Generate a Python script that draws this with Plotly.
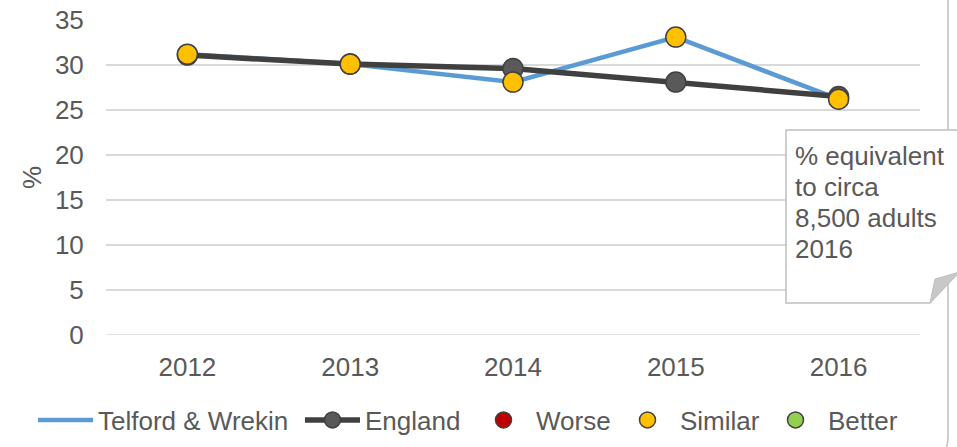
import plotly.graph_objects as go

years = ["2012", "2013", "2014", "2015", "2016"]
telford = [31.2, 30.1, 28.1, 33.1, 26.2]
england = [31.1, 30.1, 29.6, 28.1, 26.5]
similar = [31.2, 30.1, 28.1, 33.1, 26.2]
worse = [None, None, None, None, None]
better = [None, None, None, None, None]
y_ticks = [0, 5, 10, 15, 20, 25, 30, 35]
callout_lines = ["% equivalent", "to circa", "8,500 adults", "2016"]

W, H = 957, 447
L, R, T, B = 106, 920, 20, 335
FONT = "Liberation Sans, Arial, sans-serif"
TXT = "#595959"


def px(x):
    return (x - L) / (R - L)


def py(y):
    return (B - y) / (B - T)


fig = go.Figure()
fig.add_trace(go.Scatter(x=years, y=telford, name="Telford & Wrekin", mode="lines",
                         line=dict(color="#5B9BD5", width=4.5), legend="legend"))
fig.add_trace(go.Scatter(x=years, y=england, name="England", mode="lines+markers",
                         line=dict(color="#404040", width=5.5),
                         marker=dict(size=20, color="#595959", line=dict(color="#404040", width=1.5)),
                         legend="legend2"))
fig.add_trace(go.Scatter(x=years, y=worse, name="Worse", mode="markers",
                         marker=dict(size=20, color="#C00000", line=dict(color="#404040", width=1.5)),
                         legend="legend3"))
fig.add_trace(go.Scatter(x=years, y=similar, name="Similar", mode="markers",
                         marker=dict(size=20, color="#FFC000", line=dict(color="#404040", width=1.5)),
                         legend="legend4"))
fig.add_trace(go.Scatter(x=years, y=better, name="Better", mode="markers",
                         marker=dict(size=20, color="#92D050", line=dict(color="#404040", width=1.5)),
                         legend="legend5"))

shapes = []
# chart frame right edge
shapes.append(dict(type="path", xref="paper", yref="paper",
                   path=f"M {px(948)},{py(-5)} L {px(948)},{py(436)} Q {px(948)},{py(447)} {px(944)},{py(452)}",
                   line=dict(color="#BFBFBF", width=1.5)))
# callout box with folded corner
shapes.append(dict(type="path", xref="paper", yref="paper",
                   path=(f"M {px(786)},{py(130)} L {px(960)},{py(130)} L {px(960)},{py(273)} "
                         f"L {px(957)},{py(273)} L {px(930)},{py(303)} L {px(786)},{py(303)} Z"),
                   fillcolor="white", line=dict(color="#BFBFBF", width=1.5), layer="above"))
shapes.append(dict(type="path", xref="paper", yref="paper",
                   path=f"M {px(930)},{py(303)} L {px(935)},{py(279)} L {px(960)},{py(272)} Z",
                   fillcolor="#C8C8C8", line=dict(color="#BFBFBF", width=1), layer="above"))

annotations = []
for i, t in enumerate(callout_lines):
    annotations.append(dict(text=t, xref="paper", yref="paper", x=px(793), y=py(156 + 31 * i),
                            xanchor="left", yanchor="middle", showarrow=False,
                            font=dict(family=FONT, size=26, color=TXT)))


def leg(x_left):
    return dict(orientation="h", x=px(x_left), xanchor="left", y=py(420), yanchor="middle",
                font=dict(family=FONT, size=26, color=TXT), bgcolor="rgba(0,0,0,0)",
                itemwidth=55, borderwidth=0)


fig.update_layout(
    width=W, height=H,
    margin=dict(l=L, r=W - R, t=T, b=H - B, autoexpand=False),
    paper_bgcolor="white", plot_bgcolor="white",
    font=dict(family=FONT, size=26, color=TXT),
    showlegend=True,
    legend=leg(33),
    legend2=leg(300),
    legend3=leg(471),
    legend4=leg(615),
    legend5=leg(763),
    xaxis=dict(type="category", range=[-0.5, 4.5], showgrid=False, zeroline=False, automargin=False,
               showline=False, ticks="outside", ticklen=9, tickcolor="rgba(0,0,0,0)",
               tickfont=dict(family=FONT, size=26, color=TXT)),
    yaxis=dict(range=[0, 35], tickvals=y_ticks, showgrid=True, gridcolor="#D9D9D9", gridwidth=1.5,
               zeroline=False, showline=False, ticks="outside", ticklen=16, automargin=False,
               tickcolor="rgba(0,0,0,0)", tickfont=dict(family=FONT, size=26, color=TXT),
               title=dict(text="%", font=dict(family=FONT, size=26, color=TXT), standoff=5)),
    shapes=shapes, annotations=annotations,
)
fig.add_shape(type="line", xref="paper", yref="y", x0=0, x1=1, y0=0, y1=0,
              line=dict(color="#D9D9D9", width=1.5), layer="below")

fig.write_html("out.html", config={"displayModeBar": False},
               post_script="document.body.style.margin='0px';")
